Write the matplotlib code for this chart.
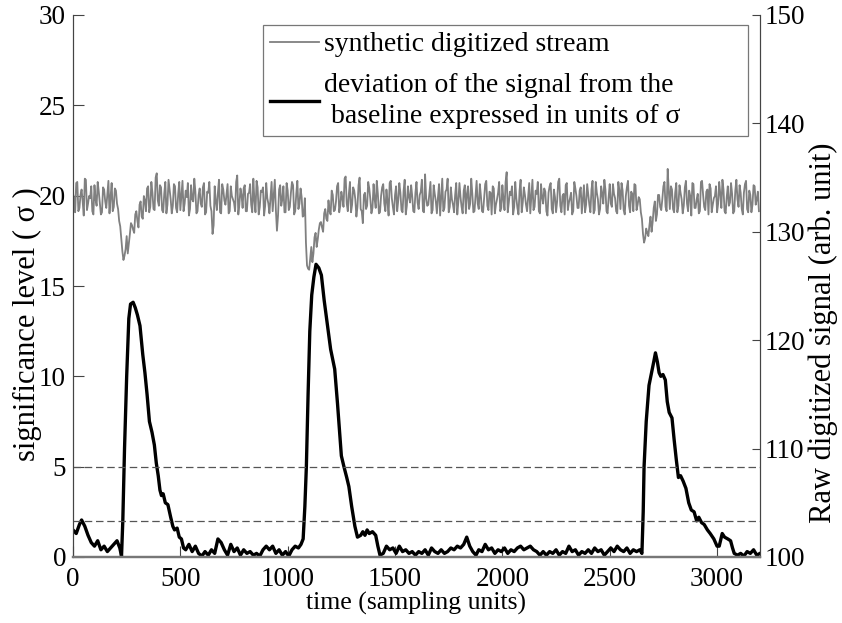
import numpy as np
import matplotlib
matplotlib.use("Agg")
import matplotlib.pyplot as plt

plt.rcParams['font.family'] = ['Liberation Serif', 'DejaVu Serif']

# raw stream samples at x = 0, 10, 20, ... (right axis)
stream_step = 10
stream = [
    133.5, 131.8, 134.6, 132.2, 133.9, 131.5, 134.8, 132.6, 133.1, 131.9, 134.3, 132.4, 133.7, 131.6, 134.1, 132.8, 133.4, 131.7, 134.5, 132.3,
    133.8, 132.1, 130.5, 128.2, 127.8, 129.6, 128.9, 130.8, 130.2, 131.6, 131.0, 132.5, 131.4, 133.3, 131.9, 134.2, 132.3, 133.6, 132.0, 135.4,
    132.4, 134.1, 131.8, 134.6, 132.5, 133.9, 131.7, 134.4, 132.2, 133.5, 132.0, 134.7, 132.6, 133.2, 131.5, 134.3, 132.8, 133.7, 131.9, 134.0,
    132.3, 134.5, 131.8, 133.6, 132.4, 129.8, 134.2, 132.0, 134.8, 131.7, 133.9, 132.5, 134.4, 131.9, 133.3, 132.7, 134.6, 131.6, 134.0, 132.2,
    134.3, 131.9, 133.6, 132.5, 134.9, 131.8, 134.1, 132.3, 133.7, 131.5, 134.5, 132.6, 133.2, 131.9, 134.8, 130.1, 133.9, 132.4, 134.2, 131.8,
    133.8, 132.3, 134.6, 131.6, 133.5, 132.1, 134.0, 131.4, 133.1, 126.9, 126.5, 128.6, 128.0, 129.9, 129.3, 130.8, 130.4, 131.7, 131.2, 132.9,
    131.6, 133.4, 132.0, 134.2, 131.8, 133.7, 132.3, 135.1, 131.9, 134.6, 132.5, 133.8, 131.4, 134.3, 132.1, 130.8, 133.6, 132.4, 134.0, 131.7,
    134.4, 132.2, 133.5, 131.8, 134.1, 132.6, 133.9, 131.5, 134.7, 132.3, 133.4, 131.9, 134.5, 132.0, 133.8, 131.6, 134.2, 132.7, 133.3, 131.8,
    134.6, 132.1, 133.7, 131.9, 135.3, 132.4, 133.6, 131.7, 134.3, 132.8, 133.2, 131.5, 134.9, 132.2, 133.9, 131.8, 134.1, 132.5, 133.4, 131.6,
    134.5, 132.3, 133.8, 131.7, 134.2, 132.6, 133.5, 131.9, 134.7, 132.1, 133.3, 131.8, 134.4, 132.4, 133.7, 131.6, 134.0, 132.5, 133.6, 131.9,
    134.3, 132.0, 135.5, 132.7, 133.4, 131.6, 134.6, 132.2, 133.8, 131.8, 134.1, 132.5, 133.2, 131.7, 134.8, 132.3, 133.5, 131.9, 134.4, 132.6,
    133.7, 131.5, 134.2, 132.1, 133.9, 131.8, 134.6, 132.4, 133.3, 131.6, 134.5, 132.7, 133.6, 131.9, 134.0, 132.2, 133.8, 131.7, 134.3, 132.5,
    133.4, 131.8, 134.7, 132.0, 133.6, 131.6, 134.2, 132.6, 133.9, 131.7, 134.4, 132.3, 133.5, 131.9, 134.6, 132.1, 133.8, 131.6, 134.1, 132.4,
    133.7, 131.9, 134.3, 132.5, 133.0, 131.2, 129.0, 130.3, 129.6, 131.4, 130.9, 132.8, 131.6, 133.4, 132.0, 134.2, 132.3, 135.8, 132.1, 133.9,
    131.8, 134.5, 132.4, 133.6, 131.7, 134.1, 132.6, 133.8, 131.5, 134.4, 132.2, 133.5, 131.9, 134.7, 132.3, 133.7, 131.6, 134.0, 132.5, 133.3,
    131.8, 134.6, 132.2, 133.9, 131.7, 134.2, 132.7, 133.5, 131.9, 134.8, 132.3, 133.6, 131.6, 134.4, 132.1, 133.8, 131.8, 134.3, 132.5, 133.7,
]
# in-between samples at x = 5, 15, 25, ...
stream_mid = [
    133.1, 134.5, 131.9, 133.4, 132.8, 134.9, 132.0, 133.3, 134.2, 131.6, 133.0, 134.6, 132.7, 131.8, 133.9, 132.2, 134.7, 133.2, 131.9, 134.0,
    132.6, 131.0, 129.3, 127.4, 128.4, 128.0, 129.8, 130.6, 129.9, 131.9, 130.4, 132.8, 131.2, 132.9, 134.0, 131.8, 134.6, 132.1, 135.0, 132.9,
    134.3, 132.0, 133.5, 131.7, 134.8, 133.0, 132.4, 134.2, 131.8, 134.6, 133.3, 131.9, 133.8, 134.5, 132.1, 133.0, 134.9, 131.7, 133.4, 132.6,
    134.1, 131.6, 133.7, 134.6, 131.9, 130.6, 132.8, 133.6, 131.8, 134.4, 132.9, 133.5, 131.7, 134.2, 133.0, 131.9, 135.2, 132.5, 133.4, 134.0,
    131.9, 133.5, 134.4, 131.8, 132.9, 134.7, 131.6, 133.8, 134.1, 132.4, 133.1, 131.7, 134.6, 133.3, 132.0, 131.5, 134.3, 133.0, 131.8, 134.5,
    132.0, 133.6, 134.3, 131.9, 134.7, 132.6, 133.2, 131.5, 129.0, 126.6, 127.6, 127.2, 129.5, 128.6, 130.2, 130.9, 130.0, 132.1, 131.0, 131.9,
    133.8, 131.9, 132.8, 134.5, 132.4, 133.1, 134.9, 132.6, 133.5, 131.8, 134.1, 133.0, 132.3, 135.0, 131.9, 133.4, 132.1, 134.6, 133.0, 132.2,
    133.0, 134.7, 131.7, 133.3, 134.4, 131.9, 132.8, 134.5, 133.1, 131.6, 134.2, 132.9, 133.6, 131.8, 134.8, 132.4, 133.2, 134.3, 131.9, 133.6,
    132.7, 133.4, 134.8, 131.8, 133.1, 132.5, 134.6, 132.0, 133.5, 131.7, 134.4, 133.2, 131.9, 133.7, 134.9, 132.3, 133.0, 131.8, 134.5, 132.8,
    133.2, 131.7, 134.3, 133.5, 132.1, 134.9, 131.8, 133.3, 132.6, 134.4, 131.9, 133.1, 134.7, 132.0, 133.6, 134.2, 131.7, 133.0, 134.6, 132.2,
    133.0, 134.6, 131.8, 133.7, 134.2, 132.3, 133.1, 131.6, 134.8, 132.7, 133.4, 131.9, 134.5, 133.3, 132.0, 133.8, 134.6, 131.7, 133.2, 134.0,
    131.9, 133.6, 134.5, 131.7, 133.2, 132.8, 134.9, 131.8, 133.5, 134.3, 132.0, 133.1, 131.6, 134.6, 133.3, 132.2, 134.1, 133.0, 131.8, 134.4,
    132.5, 133.9, 131.7, 134.6, 133.0, 132.1, 133.5, 134.8, 131.9, 133.2, 132.6, 134.4, 133.1, 131.7, 133.8, 134.5, 132.0, 133.3, 134.7, 131.8,
    133.5, 134.4, 132.0, 133.2, 131.8, 129.8, 129.4, 129.9, 130.6, 130.0, 132.2, 131.0, 133.4, 132.3, 133.0, 134.6, 131.9, 133.8, 134.2, 132.1,
    133.6, 131.8, 134.3, 133.0, 132.4, 134.7, 131.9, 133.3, 134.5, 132.2, 133.0, 131.7, 134.6, 133.4, 132.0, 133.9, 134.4, 131.8, 133.1, 134.2,
    132.6, 133.5, 134.8, 131.9, 133.2, 132.4, 134.5, 131.7, 133.8, 133.0, 134.3, 132.1, 133.6, 134.7, 131.8, 133.4, 132.5, 134.2, 133.0, 131.9,
]

# deviation from baseline in sigma (left axis)
dev_x = [0, 15, 30, 40, 55, 70, 85, 100, 115, 130, 145, 160, 175, 190, 205, 218, 226,
         232, 240, 250, 260, 268, 280, 290, 300, 312, 325, 335, 345, 356, 368, 379, 388, 397, 405, 412, 420,
         430, 442, 455, 465, 473, 485, 495, 505, 515, 525,
         540, 555, 570, 585, 600, 615, 630, 645, 660, 675, 690, 705, 720, 735, 750, 765, 780, 795, 810, 825,
         840, 855, 870, 885, 900, 915, 930, 945, 960, 975, 990, 1005, 1020, 1035, 1050, 1062,
         1072, 1080, 1087, 1095, 1103, 1112, 1122, 1132, 1145, 1157, 1170, 1188, 1200, 1219, 1232, 1250,
         1262, 1275, 1285, 1298, 1313, 1325, 1340, 1350, 1360, 1370, 1380, 1395, 1410, 1420, 1430,
         1445, 1460, 1475, 1490, 1505, 1520, 1535, 1550, 1565, 1580, 1595, 1610, 1625, 1640, 1655, 1670,
         1685, 1700, 1715, 1730, 1745, 1760, 1775, 1790, 1805, 1820, 1834, 1848, 1862, 1877, 1890, 1905,
         1920, 1935, 1950, 1965, 1980, 1995, 2010, 2025, 2040, 2055, 2070, 2085, 2100, 2115, 2130, 2145,
         2160, 2175, 2190, 2205, 2220, 2235, 2250, 2265, 2280, 2295, 2310, 2325, 2340, 2355, 2370, 2385,
         2400, 2415, 2430, 2445, 2460, 2475, 2490, 2505, 2520, 2535, 2550, 2565, 2580, 2595, 2610, 2625,
         2640, 2650, 2656, 2660, 2670, 2683, 2695, 2705, 2713, 2722, 2730, 2738, 2748, 2759, 2768, 2777,
         2790, 2800, 2810, 2820, 2830, 2842, 2855, 2868, 2880, 2893, 2905, 2915, 2928, 2940, 2955, 2968,
         2985, 3000, 3010, 3024, 3035, 3050, 3063, 3072, 3080, 3095, 3110, 3125, 3140, 3155, 3170, 3185, 3200]
dev_y = [1.5, 1.3, 1.8, 2.05, 1.7, 1.2, 0.8, 0.6, 0.9, 0.4, 0.6, 0.3, 0.5, 0.7, 0.9, 0.5, 0.05,
         2.0, 6.0, 10.0, 13.2, 14.0, 14.1, 13.8, 13.4, 12.8, 11.2, 10.2, 9.0, 7.5, 6.9, 6.2, 5.2, 4.5, 3.7, 3.4, 3.5,
         3.0, 2.9, 2.2, 1.7, 1.5, 1.6, 1.1, 1.0, 0.5, 0.4,
         0.7, 0.3, 0.6, 0.2, 0.05, 0.3, 0.1, 0.4, 0.2, 1.0, 0.8, 0.4, 0.1, 0.7, 0.3, 0.5, 0.1, 0.4, 0.2, 0.3,
         0.1, 0.2, 0.05, 0.4, 0.6, 0.4, 0.6, 0.2, 0.4, 0.1, 0.3, 0.05, 0.4, 0.6, 0.5, 0.7,
         1.0, 2.8, 5.0, 9.0, 12.5, 14.5, 15.5, 16.2, 16.0, 15.6, 14.2, 12.6, 11.5, 10.4, 8.5, 5.6,
         5.0, 4.4, 3.9, 2.8, 1.7, 1.1, 1.2, 1.4, 1.2, 1.5, 1.3, 1.4, 1.2, 0.6, 0.1,
         0.2, 0.6, 0.4, 0.5, 0.2, 0.6, 0.3, 0.4, 0.2, 0.3, 0.1, 0.3, 0.2, 0.4, 0.1, 0.5,
         0.3, 0.2, 0.4, 0.2, 0.3, 0.5, 0.4, 0.6, 0.5, 0.7, 1.1, 0.6, 0.3, 0.1, 0.4, 0.3,
         0.7, 0.4, 0.5, 0.2, 0.4, 0.3, 0.5, 0.2, 0.4, 0.3, 0.5, 0.6, 0.4, 0.5, 0.6, 0.4,
         0.3, 0.1, 0.3, 0.1, 0.3, 0.2, 0.4, 0.1, 0.3, 0.2, 0.6, 0.3, 0.4, 0.1, 0.3, 0.2,
         0.4, 0.2, 0.5, 0.3, 0.4, 0.1, 0.3, 0.5, 0.3, 0.6, 0.4, 0.3, 0.5, 0.2, 0.4, 0.3,
         0.4, 0.2, 2.5, 5.0, 7.5, 9.5, 10.2, 10.8, 11.3, 10.8, 10.2, 10.0, 10.1, 9.8, 8.6, 8.0,
         7.7, 6.5, 5.4, 4.4, 4.5, 4.2, 3.8, 3.0, 2.6, 2.5, 2.0, 2.2, 1.9, 1.8, 1.5, 1.3,
         1.0, 0.6, 0.6, 1.3, 1.1, 1.0, 0.9, 0.5, 0.2, 0.1, 0.2, 0.05, 0.3, 0.2, 0.4, 0.1, 0.2]

thresholds = [5, 2]
left_ticks = [0, 5, 10, 15, 20, 25, 30]
right_ticks = [100, 110, 120, 130, 140, 150]
x_ticks = [0, 500, 1000, 1500, 2000, 2500, 3000]

# interleave the two sample lists
sx = np.column_stack([np.arange(len(stream)) * stream_step,
                      np.arange(len(stream_mid)) * stream_step + stream_step / 2]).ravel()
sy = np.column_stack([stream, stream_mid]).ravel()

fig = plt.figure(figsize=(8.42, 6.23), dpi=100)
ax = fig.add_axes([73/842, 1 - 557/623, 687/842, 542/623])
ax2 = ax.twinx()

l2, = ax2.plot(sx, sy, color='#808080', lw=1.3)
l1, = ax.plot(dev_x, dev_y, color='black', lw=2.4, solid_joinstyle='round')
for t in thresholds:
    ax.axhline(t, color='#555555', lw=0.9, ls=(0, (6, 3)))

ax.set_xlim(0, 3200)
ax.set_ylim(0, 30)
ax2.set_ylim(100, 150)
ax.set_xticks(x_ticks)
ax.set_yticks(left_ticks)
ax2.set_yticks(right_ticks)

for a in (ax, ax2):
    a.spines['top'].set_visible(False)
    a.tick_params(direction='in', labelsize=19.5, length=8, width=0.8, color='#444444')
    a.spines['left'].set_color('#444444')
    a.spines['right'].set_color('#444444')
    a.spines['bottom'].set_color('#777777')
    a.spines['bottom'].set_linewidth(1.6)
ax.tick_params(axis='x', pad=7)
ax.tick_params(axis='y', pad=5)
ax2.tick_params(axis='y', pad=3, length=6)

ax.set_xlabel('time (sampling units)', fontsize=18.5, labelpad=0)
ax.set_ylabel('significance level ( σ )', fontsize=22, va='center')
ax.yaxis.set_label_coords(-0.067, 0.43)
ax2.set_ylabel('Raw digitized signal (arb. unit)', fontsize=22, va='center')
ax2.yaxis.set_label_coords(1.0917, 0.413)

leg = ax2.legend([l2, l1],
                 ['synthetic digitized stream',
                  'deviation of the signal from the\n baseline expressed in units of σ'],
                 loc='upper left', bbox_to_anchor=(0.2766, 0.7786, 0.706, 0.203),
                 mode='expand', fontsize=20, frameon=True, fancybox=False,
                 handlelength=1.75, handletextpad=0.2, borderpad=0.25,
                 labelspacing=0.55, borderaxespad=0)
for t in leg.get_texts():
    t.set_linespacing(1.35)
leg.get_frame().set_edgecolor('#555555')
leg.get_frame().set_linewidth(0.9)

fig.savefig('out.png', dpi=100)
